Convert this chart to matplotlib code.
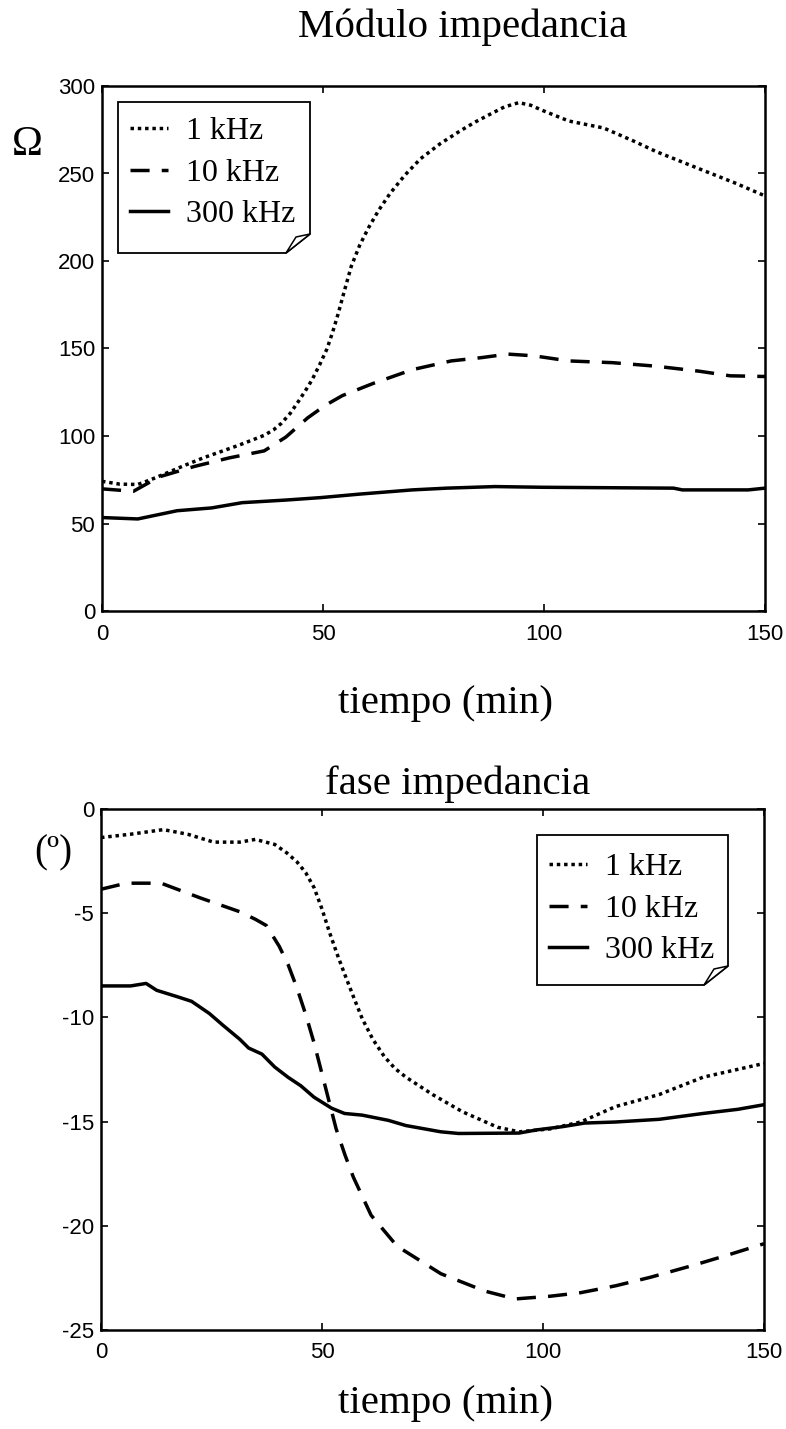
import numpy as np
import matplotlib
matplotlib.use("Agg")
import matplotlib.pyplot as plt
from matplotlib.patches import Polygon

# Impedancia medida a tres frecuencias durante 150 min

labels = ["1 kHz", "10 kHz", "300 kHz"]

# --- módulo (ohm) ---
t_mod_1k = [0, 4, 8.1, 11, 14.5, 18.5, 22.9, 26.8, 30.7, 33.8, 36.7, 38.8, 40.6, 42.6, 44.5,
            46, 47.5, 49.2, 50.9, 52.2, 53.4, 54.9, 56.4, 58.3, 60.3, 62.6, 65.2, 68.5, 72.1,
            76.5, 81, 84.5, 87.9, 91, 94.3, 97, 99.7, 105.6, 113.5, 120.4, 125.4, 135.2, 143.1,
            150]
mod_1k = [74.1, 72.5, 72.3, 75, 78.7, 83, 87.5, 91, 94.5, 97.5, 100.4, 103.5, 107.3, 113, 120,
          125.8, 132, 140.5, 149.8, 159.5, 169.6, 183.5, 197, 209, 219, 229, 238.7, 249, 258.5,
          267, 274.3, 279.5, 284, 288, 290.5, 289, 286, 280, 276, 268.4, 262.5, 252.6, 244.7,
          237.2]

t_mod_10k = [0, 7.1, 13, 20.9, 28.8, 36.7, 41.6, 46.5, 50.5, 54.4, 61.3, 70.2, 79, 85.9, 91.8,
             97.8, 105.6, 115.5, 125.3, 135.2, 142.1, 150]
mod_10k = [69.8, 68.4, 76.7, 82.6, 87.5, 91.5, 99.4, 110.3, 117.5, 123.1, 130, 137.9, 142.9,
           144.8, 146.8, 145.8, 142.9, 141.9, 139.9, 137, 134.4, 134]

t_mod_300k = [0, 8.1, 17, 24.8, 31.7, 41.6, 49.5, 58.3, 70.2, 78, 88.9, 99.7, 129.3, 131.3,
              146.2, 150]
mod_300k = [53.4, 52.6, 57.3, 58.9, 61.9, 63.4, 64.8, 66.8, 69.2, 70.2, 71.1, 70.7, 70.2, 69.2,
            69.2, 70.2]

# --- fase (grados) ---
t_fase_1k = [0, 6.7, 14.1, 19.6, 25.5, 31.4, 34.9, 39.3, 42, 44.3, 46.3, 48.2, 50, 51.7, 53.4,
             55.1, 57.1, 59.1, 61.5, 64.1, 66.5, 69, 75, 81.8, 89.7, 94.6, 101.6, 108.5, 116.4,
             126.3, 136.2, 150]
fase_1k = [-1.37, -1.21, -0.99, -1.21, -1.59, -1.59, -1.46, -1.70, -2.1, -2.53, -3.05, -3.77,
           -4.8, -5.92, -6.95, -7.91, -9.0, -10.06, -11.05, -11.88, -12.45, -12.87, -13.7,
           -14.53, -15.27, -15.49, -15.35, -15.02, -14.28, -13.7, -12.87, -12.21]

t_fase_10k = [0, 5.7, 13.6, 22.5, 31.4, 35, 37.4, 40.3, 42.3, 44.3, 46.3, 48.2, 51.2, 53.2,
              55.2, 57.1, 61.1, 67, 76.9, 86.8, 93.7, 101.6, 108.5, 116.4, 124.3, 134.1, 142,
              150]
fase_10k = [-3.85, -3.56, -3.56, -4.27, -4.93, -5.3, -5.59, -6.58, -7.45, -8.57, -9.85, -11.22,
            -13.70, -15.35, -16.6, -17.67, -19.49, -20.98, -22.3, -23.13, -23.51, -23.38,
            -23.21, -22.88, -22.47, -21.89, -21.39, -20.86]

t_fase_300k = [0, 6.7, 10.2, 12.6, 17.6, 20.5, 24.5, 27.5, 31.4, 33.4, 36.4, 39.3, 42.3, 45.2,
               48.2, 52.2, 55.1, 59.1, 65, 69, 76.9, 80.9, 94.6, 98.5, 104.5, 109.4, 116.4,
               126.3, 136.2, 144.1, 150]
fase_300k = [-8.49, -8.49, -8.37, -8.70, -9.03, -9.23, -9.81, -10.36, -11.05, -11.47, -11.76,
             -12.38, -12.87, -13.28, -13.83, -14.36, -14.61, -14.69, -14.94, -15.19, -15.49,
             -15.57, -15.55, -15.40, -15.24, -15.07, -15.02, -14.89, -14.61, -14.41, -14.19]

W, H = 786, 1429
serif = "Liberation Serif"
sans = "Liberation Sans"
plt.rcParams["axes.unicode_minus"] = False

estilos = [dict(linestyle=(0, (1, 1.1))),
           dict(linestyle=(0, (5.5, 3.5))),
           dict(linestyle="-")]


def fx(px):
    return px / W


def fy(py):
    return 1 - py / H


def ejes(left, right, top, bottom):
    return fig.add_axes([fx(left), fy(bottom), fx(right - left), fy(top) - fy(bottom)])


def formato(ax, ylim, yticks):
    ax.set_xlim(0, 150)
    ax.set_ylim(*ylim)
    ax.set_xticks([0, 50, 100, 150])
    ax.set_yticks(yticks)
    ax.tick_params(direction="in", length=5, width=1.2, top=True, right=True,
                   labelsize=16, pad=5)
    ax.tick_params(axis="x", pad=9)
    for lab in ax.get_xticklabels() + ax.get_yticklabels():
        lab.set_fontfamily(sans)
    for s in ax.spines.values():
        s.set_linewidth(1.8)


def leyenda(lines, left, right, top, bottom, anchor):
    # caja con la esquina doblada
    c = 22
    caja = Polygon([(fx(left), fy(top)), (fx(right), fy(top)), (fx(right), fy(bottom - 19)),
                    (fx(right - c - 2), fy(bottom)), (fx(left), fy(bottom))],
                   closed=True, transform=fig.transFigure, facecolor="white",
                   edgecolor="black", linewidth=1.3, zorder=5)
    doblez = Polygon([(fx(right), fy(bottom - 19)), (fx(right - 14), fy(bottom - 16)),
                      (fx(right - c - 2), fy(bottom))],
                     closed=True, transform=fig.transFigure, facecolor="white",
                     edgecolor="black", linewidth=1.1, zorder=6)
    fig.patches.extend([caja, doblez])
    leg = fig.legend(lines, labels, loc="upper left", bbox_to_anchor=anchor,
                     frameon=False, handlelength=1.2, handletextpad=0.55,
                     labelspacing=0.38, borderaxespad=0, borderpad=0,
                     prop={"family": serif, "size": 23})
    leg.set_zorder(7)


fig = plt.figure(figsize=(W / 100, H / 100), dpi=100)

# ---------------- módulo ----------------
ax1 = ejes(102, 765, 86, 611)
l1 = []
for t, v, st in zip([t_mod_1k, t_mod_10k, t_mod_300k], [mod_1k, mod_10k, mod_300k], estilos):
    l1 += ax1.plot(t, v, color="black", linewidth=2.5, **st)
formato(ax1, (0, 300), [0, 50, 100, 150, 200, 250, 300])
leyenda(l1, 118, 310, 102, 253, (fx(130), fy(117)))

fig.text(fx(463), fy(37), "Módulo impedancia", family=serif, size=29.5,
         ha="center", va="baseline")
fig.text(fx(27), fy(145), "Ω", family=serif, size=30, ha="center", va="center")
fig.text(fx(445), fy(713), "tiempo (min)", family=serif, size=29.5,
         ha="center", va="baseline")

# ---------------- fase ----------------
ax2 = ejes(101, 764, 809, 1330)
l2 = []
for t, v, st in zip([t_fase_1k, t_fase_10k, t_fase_300k], [fase_1k, fase_10k, fase_300k], estilos):
    l2 += ax2.plot(t, v, color="black", linewidth=2.5, **st)
formato(ax2, (-25, 0), [-25, -20, -15, -10, -5, 0])
leyenda(l2, 537, 728, 835, 985, (fx(549), fy(853)))

fig.text(fx(458), fy(794), "fase impedancia", family=serif, size=29.5,
         ha="center", va="baseline")
fig.text(fx(53), fy(853), "(º)", family=serif, size=28, ha="center", va="center")
fig.text(fx(445), fy(1413), "tiempo (min)", family=serif, size=29.5,
         ha="center", va="baseline")

fig.savefig("out.png", dpi=100, facecolor="white")
